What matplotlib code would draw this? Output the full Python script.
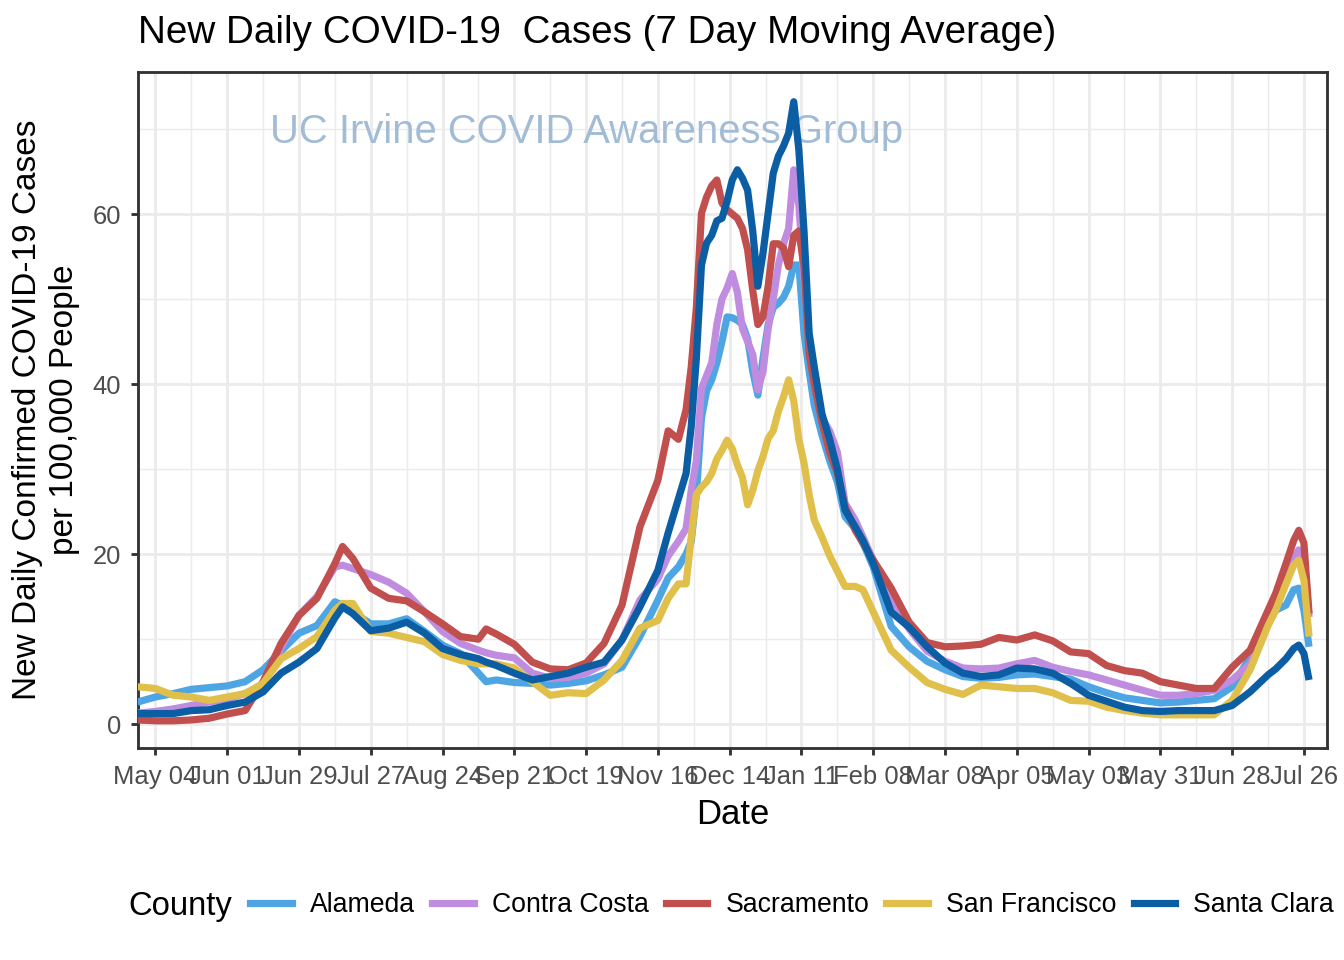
import matplotlib
matplotlib.use('Agg')
import matplotlib.pyplot as plt
import pandas as pd
from matplotlib.lines import Line2D

plt.rcParams['font.family'] = ['Liberation Sans', 'DejaVu Sans']

# ---------------- data ----------------
dates = [
    "2020-04-27", "2020-05-04", "2020-05-11", "2020-05-18", "2020-05-25",
    "2020-06-01", "2020-06-08", "2020-06-15", "2020-06-22", "2020-06-29",
    "2020-07-06", "2020-07-13", "2020-07-16", "2020-07-20", "2020-07-27",
    "2020-08-03", "2020-08-10", "2020-08-17", "2020-08-24", "2020-08-31",
    "2020-09-07", "2020-09-10", "2020-09-14", "2020-09-21", "2020-09-28",
    "2020-10-05", "2020-10-12", "2020-10-19", "2020-10-26", "2020-11-02",
    "2020-11-09", "2020-11-16", "2020-11-20", "2020-11-24", "2020-11-27",
    "2020-11-29", "2020-12-01", "2020-12-03", "2020-12-05", "2020-12-07",
    "2020-12-09", "2020-12-11", "2020-12-13", "2020-12-15", "2020-12-17",
    "2020-12-19", "2020-12-21", "2020-12-23", "2020-12-25", "2020-12-27",
    "2020-12-29", "2020-12-31", "2021-01-02", "2021-01-04", "2021-01-06",
    "2021-01-08", "2021-01-10", "2021-01-12", "2021-01-14", "2021-01-16",
    "2021-01-19", "2021-01-22", "2021-01-25", "2021-01-28", "2021-02-01",
    "2021-02-04", "2021-02-08", "2021-02-15", "2021-02-22", "2021-03-01",
    "2021-03-08", "2021-03-15", "2021-03-22", "2021-03-29", "2021-04-05",
    "2021-04-12", "2021-04-19", "2021-04-26", "2021-05-03", "2021-05-10",
    "2021-05-17", "2021-05-24", "2021-05-31", "2021-06-07", "2021-06-14",
    "2021-06-21", "2021-06-28", "2021-07-05", "2021-07-12", "2021-07-15",
    "2021-07-19", "2021-07-22", "2021-07-24", "2021-07-26", "2021-07-28",
]

alameda = [
    2.6, 3.2, 3.6, 4.1, 4.3, 4.5, 5.0, 6.4, 8.6, 10.7,
    11.6, 14.4, 14.0, 13.2, 11.8, 11.8, 12.4, 10.9, 9.3, 8.3,
    6.0, 5.0, 5.2, 4.9, 4.8, 4.6, 4.8, 5.1, 5.8, 6.7,
    10.3, 14.6, 17.2, 18.5, 20.0, 21.5, 27.0, 36.0, 39.2, 40.5,
    42.5, 45.0, 47.9, 47.8, 47.5, 47.0, 45.3, 41.5, 38.7, 43.0,
    47.0, 49.0, 49.5, 50.2, 51.5, 54.0, 54.0, 46.0, 41.5, 37.5,
    34.0, 31.0, 28.5, 24.4, 23.0, 21.3, 18.5, 11.5, 9.1, 7.4,
    6.4, 5.6, 5.4, 5.5, 5.8, 5.9, 5.6, 5.3, 4.4, 3.7,
    3.1, 2.8, 2.5, 2.6, 2.8, 3.0, 4.4, 7.9, 11.8, 13.4,
    14.0, 15.8, 16.0, 13.4, 9.1,
]

contra_costa = [
    1.3, 1.5, 1.8, 2.2, 2.6, 3.0, 3.6, 4.6, 9.0, 12.8,
    15.0, 18.5, 18.7, 18.3, 17.6, 16.7, 15.4, 13.2, 10.9, 9.5,
    8.7, 8.4, 8.1, 7.8, 6.0, 5.4, 5.5, 6.0, 7.1, 9.9,
    14.6, 17.1, 19.8, 21.5, 23.0, 27.5, 31.0, 39.5, 41.0, 42.5,
    47.0, 50.0, 51.3, 53.0, 50.8, 46.5, 45.0, 43.5, 39.3, 41.5,
    46.5, 50.0, 54.0, 56.5, 58.3, 65.2, 61.0, 52.5, 45.0, 40.0,
    36.0, 34.5, 32.0, 26.0, 24.0, 22.0, 19.3, 15.0, 11.2, 8.6,
    7.4, 6.6, 6.5, 6.6, 7.1, 7.5, 6.7, 6.2, 5.8, 5.2,
    4.6, 4.0, 3.4, 3.4, 3.6, 4.0, 5.2, 7.1, 11.8, 14.0,
    17.0, 19.5, 20.5, 19.5, 12.6,
]

sacramento = [
    0.5, 0.4, 0.4, 0.5, 0.7, 1.2, 1.6, 5.0, 9.5, 12.8,
    14.8, 18.9, 20.9, 19.5, 16.0, 14.8, 14.5, 13.2, 11.8, 10.3,
    10.0, 11.2, 10.6, 9.4, 7.3, 6.5, 6.4, 7.2, 9.5, 14.0,
    23.2, 28.7, 34.5, 33.5, 37.0, 42.0, 49.0, 60.1, 62.0, 63.3,
    64.0, 61.3, 60.5, 60.0, 59.5, 58.3, 55.8, 51.0, 47.0, 47.9,
    51.5, 56.5, 56.5, 56.0, 53.8, 57.5, 58.0, 53.8, 43.6, 40.0,
    35.5, 32.0, 29.5, 25.6, 22.8, 21.3, 19.3, 16.0, 12.0, 9.6,
    9.1, 9.2, 9.4, 10.2, 9.9, 10.5, 9.8, 8.5, 8.3, 6.9,
    6.3, 6.0, 5.0, 4.6, 4.2, 4.2, 6.7, 8.7, 13.4, 15.4,
    18.9, 21.6, 22.8, 21.3, 13.0,
]

san_francisco = [
    4.4, 4.2, 3.4, 3.2, 2.8, 3.2, 3.6, 4.8, 7.7, 8.9,
    10.3, 13.4, 14.2, 14.2, 10.9, 10.7, 10.2, 9.7, 8.2, 7.5,
    7.1, 7.1, 7.1, 6.6, 5.0, 3.4, 3.7, 3.6, 5.2, 7.5,
    11.3, 12.2, 14.8, 16.5, 16.5, 22.0, 27.0, 27.9, 28.5, 29.5,
    31.2, 32.2, 33.4, 32.4, 30.5, 29.0, 25.8, 27.5, 29.8, 31.5,
    33.6, 34.5, 36.8, 38.5, 40.5, 38.0, 33.5, 30.7, 27.0, 24.0,
    22.0, 19.8, 18.0, 16.2, 16.2, 15.8, 13.2, 8.7, 6.7, 4.9,
    4.1, 3.5, 4.6, 4.4, 4.2, 4.2, 3.7, 2.8, 2.7, 2.0,
    1.6, 1.3, 1.1, 1.1, 1.1, 1.1, 2.8, 6.4, 11.6, 13.4,
    16.5, 18.7, 19.3, 16.9, 10.3,
]

santa_clara = [
    1.25, 1.25, 1.25, 1.6, 1.7, 2.2, 2.6, 3.8, 6.0, 7.3,
    8.9, 12.5, 13.8, 13.0, 11.0, 11.3, 12.0, 10.7, 8.9, 8.2,
    7.7, 7.3, 6.9, 6.0, 5.2, 5.6, 6.0, 6.7, 7.3, 9.9,
    13.8, 18.1, 22.5, 26.5, 29.5, 35.0, 43.0, 54.0, 56.6, 57.5,
    59.2, 59.5, 61.5, 64.0, 65.2, 64.2, 62.8, 58.0, 51.5, 55.4,
    60.1, 64.8, 66.8, 68.0, 69.5, 73.2, 67.5, 58.0, 46.0, 42.0,
    36.5, 33.5, 30.0, 25.2, 23.2, 21.6, 18.9, 13.2, 11.4, 9.1,
    7.2, 6.0, 5.6, 5.8, 6.6, 6.5, 6.0, 4.8, 3.4, 2.7,
    2.0, 1.6, 1.5, 1.6, 1.6, 1.6, 2.2, 3.8, 5.8, 6.5,
    7.7, 8.9, 9.3, 8.3, 5.2,
]

counties = ["Alameda", "Contra Costa", "Sacramento", "San Francisco", "Santa Clara"]
series = [alameda, contra_costa, sacramento, san_francisco, santa_clara]
colors = ["#4DA6E3", "#BF8CE0", "#C04F4D", "#E0C04A", "#0B5EA3"]

tick_dates = pd.date_range("2020-05-04", "2021-07-26", freq="28D")
minor_dates = pd.date_range("2020-05-18", "2021-07-12", freq="28D")

# ---------------- figure ----------------
W, H = 1344, 960
fig = plt.figure(figsize=(W / 192, H / 192), dpi=192)
L, R, T, B = 138, 1327, 72, 748
ax = fig.add_axes([L / W, 1 - B / H, (R - L) / W, (B - T) / H])

x = pd.to_datetime(dates)
for name, vals, col in zip(counties, series, colors):
    ax.plot(x, vals, color=col, lw=2.7, solid_capstyle='butt',
            solid_joinstyle='round', label=name, zorder=3)

ax.set_xticks(tick_dates)
ax.set_xticklabels([d.strftime("%b %d") for d in tick_dates])
ax.set_xticks(minor_dates, minor=True)
ax.set_yticks([0, 20, 40, 60])
ax.set_yticks([10, 30, 50, 70], minor=True)
ax.set_xlim(pd.Timestamp("2020-04-27 05:00"), pd.Timestamp("2021-08-04"))
ax.set_ylim(-2.8, 76.7)

ax.grid(which='major', color='#EBEBEB', lw=1.07, zorder=0)
ax.grid(which='minor', color='#EBEBEB', lw=0.53, zorder=0)
ax.set_axisbelow(True)

for s in ax.spines.values():
    s.set_color('#333333')
    s.set_linewidth(1.07)

ax.tick_params(which='major', length=2.75, width=1.07, color='#333333',
               labelsize=9.6, labelcolor='#4D4D4D', pad=3.5)
ax.tick_params(which='minor', length=0)

ax.set_xlabel("Date", fontsize=13, labelpad=3.5)
ax.set_ylabel("New Daily Confirmed COVID-19 Cases\nper 100,000 People", fontsize=12.5,
              labelpad=5, linespacing=1.22)

ax.text(pd.Timestamp("2020-10-19"), 69.6, "UC Irvine COVID Awareness Group",
        ha='center', va='center', fontsize=15, color='#A2BCD6', zorder=2)

fig.text(L / W, 1 - 33 / H, "New Daily COVID-19  Cases (7 Day Moving Average)",
         ha='left', va='center', fontsize=14.5)

# legend
handles = [Line2D([0], [0], color=c, lw=2.7) for c in colors]
fig.text(128 / W, 1 - 906 / H, "County", ha='left', va='center', fontsize=12.3)
fig.legend(handles, counties, loc='center', bbox_to_anchor=(792 / W, 1 - 905 / H),
           ncol=5, frameon=False, fontsize=10, handlelength=1.57,
           handletextpad=0.67, columnspacing=0.64, borderpad=0, borderaxespad=0)

fig.savefig("out.png", dpi=192)
